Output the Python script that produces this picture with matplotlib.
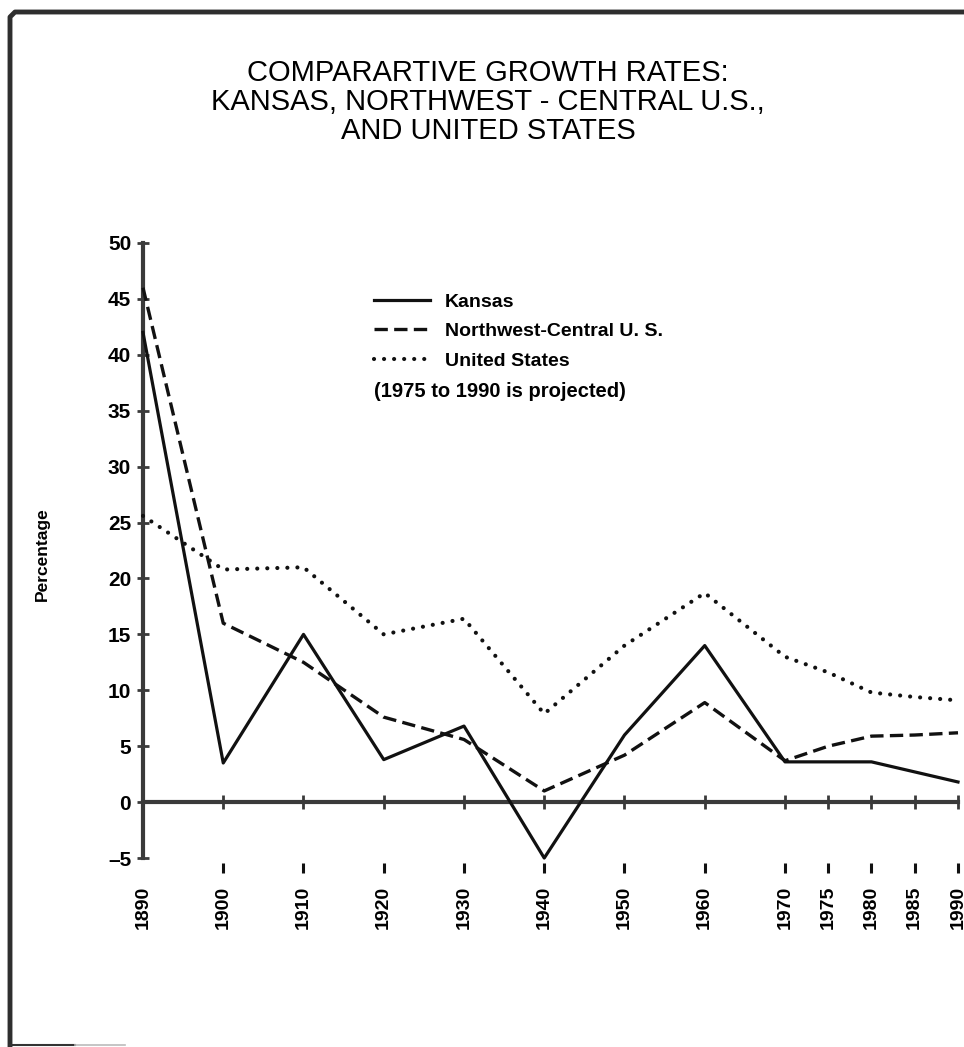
import numpy as np
import matplotlib
matplotlib.use("Agg")
import matplotlib.pyplot as plt
from matplotlib.lines import Line2D

# Percentage growth per decade (1975-1990 projected)
years = [1890, 1900, 1910, 1920, 1930, 1940, 1950, 1960, 1970, 1975, 1980, 1985, 1990]
kansas = [42.0, 3.5, 15.0, 3.8, 6.8, -5.0, 6.0, 14.0, 3.6, 3.6, 3.6, 2.7, 1.8]
nw_central = [46.0, 16.0, 12.5, 7.6, 5.6, 1.0, 4.2, 8.9, 3.7, 5.0, 5.9, 6.0, 6.2]
united_states = [25.6, 20.8, 21.0, 15.0, 16.4, 7.9, 14.0, 18.7, 13.0, 11.6, 9.8, 9.4, 9.1]
y_ticks = list(range(-5, 51, 5))
x_labels = [str(y) for y in years]

title = "COMPARARTIVE GROWTH RATES:\nKANSAS, NORTHWEST - CENTRAL U.S.,\nAND UNITED STATES"
note = "(1975 to 1990 is projected)"

plt.rcParams["font.family"] = ["Liberation Sans", "DejaVu Sans"]

W, H = 964, 1047
fig = plt.figure(figsize=(W / 100, H / 100), dpi=100)
ax = fig.add_axes([143 / W, (H - 862.5) / H, 815 / W, (862.5 - 243) / H])

# the projected period is drawn a bit wider on the original
k = 1.078


def fwd(x):
    x = np.asarray(x, dtype=float)
    return np.where(x <= 1970, x, 1970 + (x - 1970) * k)


def inv(x):
    x = np.asarray(x, dtype=float)
    return np.where(x <= 1970, x, 1970 + (x - 1970) / k)


ax.set_xscale("function", functions=(fwd, inv))
ax.set_xlim(1890, 1990)
ax.set_ylim(-5.4, 50)

ink = "#111111"
axis_gray = "#3a3a3a"

ax.plot(years, kansas, color=ink, lw=2.3, ls="-", clip_on=False, label="Kansas", zorder=3)
ax.plot(years, nw_central, color=ink, lw=2.4, ls=(0, (4.0, 1.9)), dash_capstyle="butt",
        clip_on=False, label="Northwest-Central U. S.", zorder=3)
ax.plot(years, united_states, color=ink, lw=3.0, ls=(0, (0.01, 2.4)), dash_capstyle="round",
        clip_on=False, label="United States", zorder=3)

# zero line with small cross ticks
ax.axhline(0, color=axis_gray, lw=3, zorder=2, clip_on=False)
ax.plot(years[1:], [0] * (len(years) - 1), ls="none", marker="|", ms=10, mew=2,
        color=axis_gray, clip_on=False, zorder=2)

for s in ["top", "right", "bottom"]:
    ax.spines[s].set_visible(False)
ax.spines["left"].set_bounds(-5, 50)
ax.spines["left"].set_linewidth(3)
ax.spines["left"].set_color(axis_gray)

ax.set_yticks(y_ticks, [str(t).replace("-", "\u2013") for t in y_ticks],
              fontsize=15, fontweight="bold")
ax.tick_params(axis="y", direction="inout", length=9, width=2, color=axis_gray, pad=4)

ax.set_xticks(years, x_labels, rotation=90, fontsize=14, fontweight="bold")
ax.xaxis.set_minor_locator(plt.NullLocator())
ax.tick_params(axis="x", direction="out", length=7.5, width=2.2, color=ink, pad=9)
ax.xaxis.get_major_ticks()[0].tick1line.set_visible(False)

leg = ax.legend(loc="upper left", bbox_to_anchor=(374 / W, 1 - 293 / H),
                bbox_transform=fig.transFigure, frameon=False,
                prop={"weight": "bold", "size": 14}, handlelength=2.9,
                handletextpad=0.75, labelspacing=0.62, borderpad=0, borderaxespad=0)
fig.text(374 / W, 1 - 391 / H, note, ha="left", va="center", fontsize=14.5, fontweight="bold")

fig.text(488 / W, 1 - 102 / H, title, ha="center", va="center", fontsize=21,
         family=["Liberation Sans Narrow", "Liberation Sans"], linespacing=1.05)
fig.text(42 / W, 1 - 554 / H, "Percentage", rotation=90, ha="center", va="center",
         fontsize=12.5, fontweight="bold")

# scanned page border (top and left, short piece at bottom)
fig.add_artist(Line2D(np.array([10, 10, 15, 964]) / W, 1 - np.array([1045, 17, 12, 12]) / H,
                      transform=fig.transFigure, color="#2e2e2e", lw=3.5,
                      solid_joinstyle="round"))
fig.add_artist(Line2D(np.array([10, 75]) / W, 1 - np.array([1045, 1045]) / H,
                      transform=fig.transFigure, color="#333333", lw=1.5))
fig.add_artist(Line2D(np.array([75, 125]) / W, 1 - np.array([1045, 1045]) / H,
                      transform=fig.transFigure, color="#bbbbbb", lw=1.2))

fig.savefig("out.png", dpi=100)
